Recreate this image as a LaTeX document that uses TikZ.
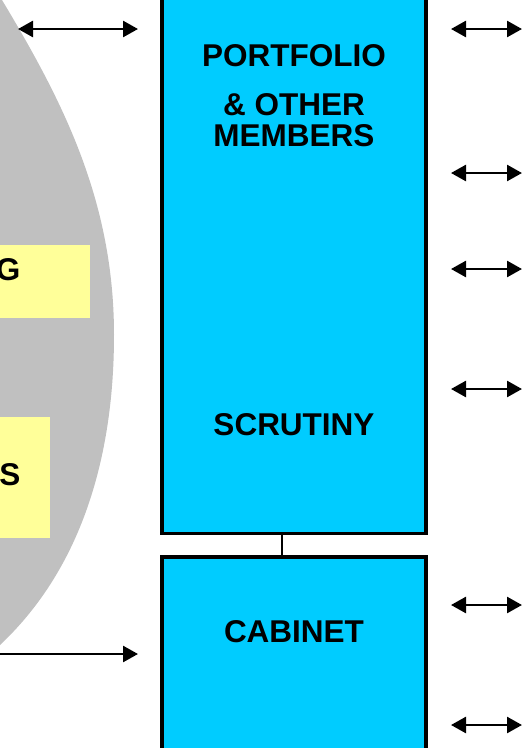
\documentclass[tikz,border=0pt]{standalone}
\usepackage{fontspec}
\setmainfont{Liberation Sans}
\usetikzlibrary{arrows.meta}
\definecolor{boxblue}{RGB}{0,204,255}
\definecolor{noteyellow}{RGB}{255,255,153}
\definecolor{ovalgray}{RGB}{192,192,192}
\begin{document}
\begin{tikzpicture}[x=1pt,y=-1pt,
  lbl/.style={font=\fontsize{31.5}{32}\selectfont\bfseries, inner sep=0pt, outer sep=0pt, text=black},
  bluebox/.style={draw=black, line width=3.5pt, fill=boxblue, inner sep=0pt, outer sep=0pt, minimum width=264pt},
  notebox/.style={fill=noteyellow, inner sep=0pt, outer sep=0pt},
  biarrow/.style={line width=2.6pt, {Triangle[length=15pt,width=16pt]}-{Triangle[length=15pt,width=16pt]}},
  rarrow/.style={line width=2.6pt, -{Triangle[length=15pt,width=16pt]}},
  link/.style={line width=2.5pt}
]
\useasboundingbox (0,0) rectangle (528,748);
\clip (0,0) rectangle (528,748);
\fill[white] (0,0) rectangle (528,748);
% grey oval (partly off page)
\fill[ovalgray] (-10,-20) -- (2,0) .. controls (62,100) and (114,200) .. (114,335)
  .. controls (114,450) and (85,565) .. (0,645) -- (-20,664) -- (-60,664) -- (-60,-20) -- cycle;
% yellow notes
\node[notebox, minimum width=150pt, minimum height=73pt, anchor=east] (note1) at (90,281.5) {};
\node[notebox, minimum width=150pt, minimum height=121pt, anchor=east] (note2) at (50,477.5) {};
\node[lbl, anchor=base east] (g) at (20.5,280.5) {G};
\node[lbl, anchor=base east] (s) at (20.3,485.5) {S};
% left arrows
\coordinate (la1) at (18,29);
\coordinate (la2) at (138,29);
\coordinate (lb1) at (-5,654);
\coordinate (lb2) at (138,654);
\draw[biarrow] (la1) -- (la2);
\draw[rarrow] (lb1) -- (lb2);
% right arrows
\foreach \yy [count=\i] in {29,173,269,389,605,725}{
  \coordinate (ra\i) at (451,\yy);
  \coordinate (rb\i) at (522,\yy);
  \draw[biarrow] (ra\i) -- (rb\i);
}
% boxes
\coordinate (cx) at (282,0);
\node[bluebox, minimum height=573pt, anchor=south] (portfolio) at (294,533.5) {};
\node[bluebox, minimum height=250pt, anchor=north] (cabinet) at (294,557) {};
\draw[link] (portfolio.south -| cx) -- (cabinet.north -| cx);
% labels
\node[lbl, anchor=base] (t1) at (294,66.5) {PORTFOLIO};
\node[lbl, anchor=base] (t2) at (294,115) {\& OTHER};
\node[lbl, anchor=base] (t3) at (294,146.5) {MEMBERS};
\node[lbl, anchor=base] (t4) at (294,435.5) {SCRUTINY};
\node[lbl, anchor=base] (t5) at (294,642.5) {CABINET};
\end{tikzpicture}
\end{document}
